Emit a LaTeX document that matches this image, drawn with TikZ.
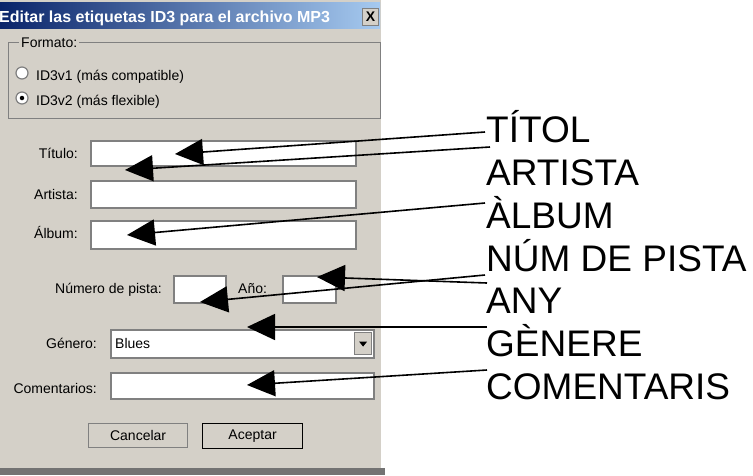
\documentclass[tikz,border=0pt]{standalone}
\usepackage{fontspec}
\setmainfont{Liberation Sans}
\usetikzlibrary{positioning, arrows.meta}
\definecolor{fondo}{HTML}{D4D0C8}
\definecolor{azulosc}{HTML}{0A246A}
\definecolor{azulcla}{HTML}{A6CAF0}
\definecolor{sombra}{HTML}{808080}
\tikzset{
    campo/.style={rectangle, draw=sombra, fill=white, line width=1.5pt, inner sep=0pt, anchor=north west},
    boton/.style={rectangle, draw=sombra, fill=fondo, line width=1.2pt, inner sep=0pt, anchor=north west, font=\fontsize{14}{16}\selectfont},
    etiq/.style={inner sep=0pt, font=\fontsize{14}{16}\selectfont},
    rotulo/.style={inner sep=0pt, anchor=base west, font=\fontsize{37}{40}\selectfont},
    flecha/.style={line width=1.6pt, -{Triangle[length=28pt, width=26pt]}},
    radio/.style={circle, draw=sombra, fill=white, line width=1.2pt, minimum size=12pt, inner sep=0pt},
}
\begin{document}
\begin{tikzpicture}[x=1pt, y=-1pt]
    \useasboundingbox (0,0) rectangle (753,475);
    \fill[white] (0,0) rectangle (753,475);
    \fill[fondo] (0,0) rectangle (381,475);
    \node [rectangle, inner sep=0pt, anchor=north west, minimum width=380pt, minimum height=26pt, left color=azulosc, right color=azulcla] (barra) at (0,2) {};
    \node [inner sep=0pt, anchor=base west, text=white, font=\bfseries\fontsize{16}{18}\selectfont] (titulo) at (-1,22) {Editar las etiquetas ID3 para el archivo MP3};
    \node [boton, minimum width=16pt, minimum height=17pt, font=\bfseries\fontsize{14}{16}\selectfont] (cerrar) at (362,8) {X};
    \node [rectangle, draw=sombra, line width=1pt, anchor=north west, minimum width=372pt, minimum height=76pt, inner sep=0pt] (formato) at (8,42) {};
    \node [etiq, fill=fondo, inner xsep=2pt, anchor=west] (lformato) at (19,43) {Formato:};
    \node [radio] (r1) at (22,73) {};
    \node [etiq, anchor=base west] (t1) at (36,80) {ID3v1 (más compatible)};
    \node [radio] (r2) at (22,98) {};
    \node [circle, fill=black, minimum size=4.5pt, inner sep=0pt] (punto) at (r2) {};
    \node [etiq, anchor=base west] (t2) at (36,105) {ID3v2 (más flexible)};
    \node [etiq, anchor=base east] (ltitulo) at (78,158) {Título:};
    \node [campo, minimum width=265pt, minimum height=25pt] (ftitulo) at (90,140) {};
    \node [etiq, anchor=base east] (lartista) at (78,199) {Artista:};
    \node [campo, minimum width=265pt, minimum height=27pt] (fartista) at (90,180) {};
    \node [etiq, anchor=base east] (lalbum) at (78,238) {Álbum:};
    \node [campo, minimum width=265pt, minimum height=28pt] (falbum) at (90,220) {};
    \node [etiq, anchor=base east] (lpista) at (162,293) {Número de pista:};
    \node [campo, minimum width=52pt, minimum height=27pt] (fpista) at (173,275) {};
    \node [etiq, anchor=base west] (lanyo) at (238,293) {Año:};
    \node [campo, minimum width=53pt, minimum height=27pt] (fanyo) at (282,275) {};
    \node [etiq, anchor=base east] (lgenero) at (97,348) {Género:};
    \node [campo, minimum width=263pt, minimum height=28pt] (fgenero) at (110,329) {};
    \node [etiq, anchor=base west] (blues) at (115,348) {Blues};
    \node [boton, minimum width=17pt, minimum height=22pt] (desplegar) at (354,332) {};
    \fill ([xshift=-4pt, yshift=2pt]desplegar.center) -- ([xshift=4pt, yshift=2pt]desplegar.center) -- ([yshift=-3pt]desplegar.center) -- cycle;
    \node [etiq, anchor=base east] (lcoment) at (97,393) {Comentarios:};
    \node [campo, minimum width=263pt, minimum height=26pt] (fcoment) at (110,372) {};
    \node [boton, minimum width=99pt, minimum height=24pt] (cancelar) at (88,423) {Cancelar};
    \node [boton, draw=black, minimum width=100pt, minimum height=25pt] (aceptar) at (202,423) {Aceptar};
    \fill[sombra!90!black] (0,468) rectangle (385,475);
    \node [rotulo] (titol) at (486,142) {TÍTOL};
    \node [rotulo] (artista) at (486,185) {ARTISTA};
    \node [rotulo] (album) at (486,228) {ÀLBUM};
    \node [rotulo] (pista) at (486,271) {NÚM DE PISTA};
    \node [rotulo] (any) at (486,313) {ANY};
    \node [rotulo] (genere) at (486,356) {GÈNERE};
    \node [rotulo] (coment) at (486,399) {COMENTARIS};
    \coordinate (ptitol) at (175,154);
    \coordinate (partista) at (125,170);
    \coordinate (palbum) at (127,235);
    \coordinate (ppista) at (200,302);
    \coordinate (pany) at (317,277);
    \coordinate (pgenere) at (247,327);
    \coordinate (pcoment) at (247,385);
    \draw[flecha] ([xshift=-1pt, yshift=10pt]titol.base west) -- (ptitol);
    \draw[flecha] ([xshift=4pt, yshift=38pt]artista.base west) -- (partista);
    \draw[flecha] ([xshift=-1pt, yshift=25pt]album.base west) -- (palbum);
    \draw[flecha] ([xshift=-1pt, yshift=-4pt]pista.base west) -- (ppista);
    \draw[flecha] ([xshift=1pt, yshift=30pt]any.base west) -- (pany);
    \draw[flecha] ([xshift=1pt, yshift=29pt]genere.base west) -- (pgenere);
    \draw[flecha] ([xshift=1pt, yshift=29pt]coment.base west) -- (pcoment);
\end{tikzpicture}
\end{document}
